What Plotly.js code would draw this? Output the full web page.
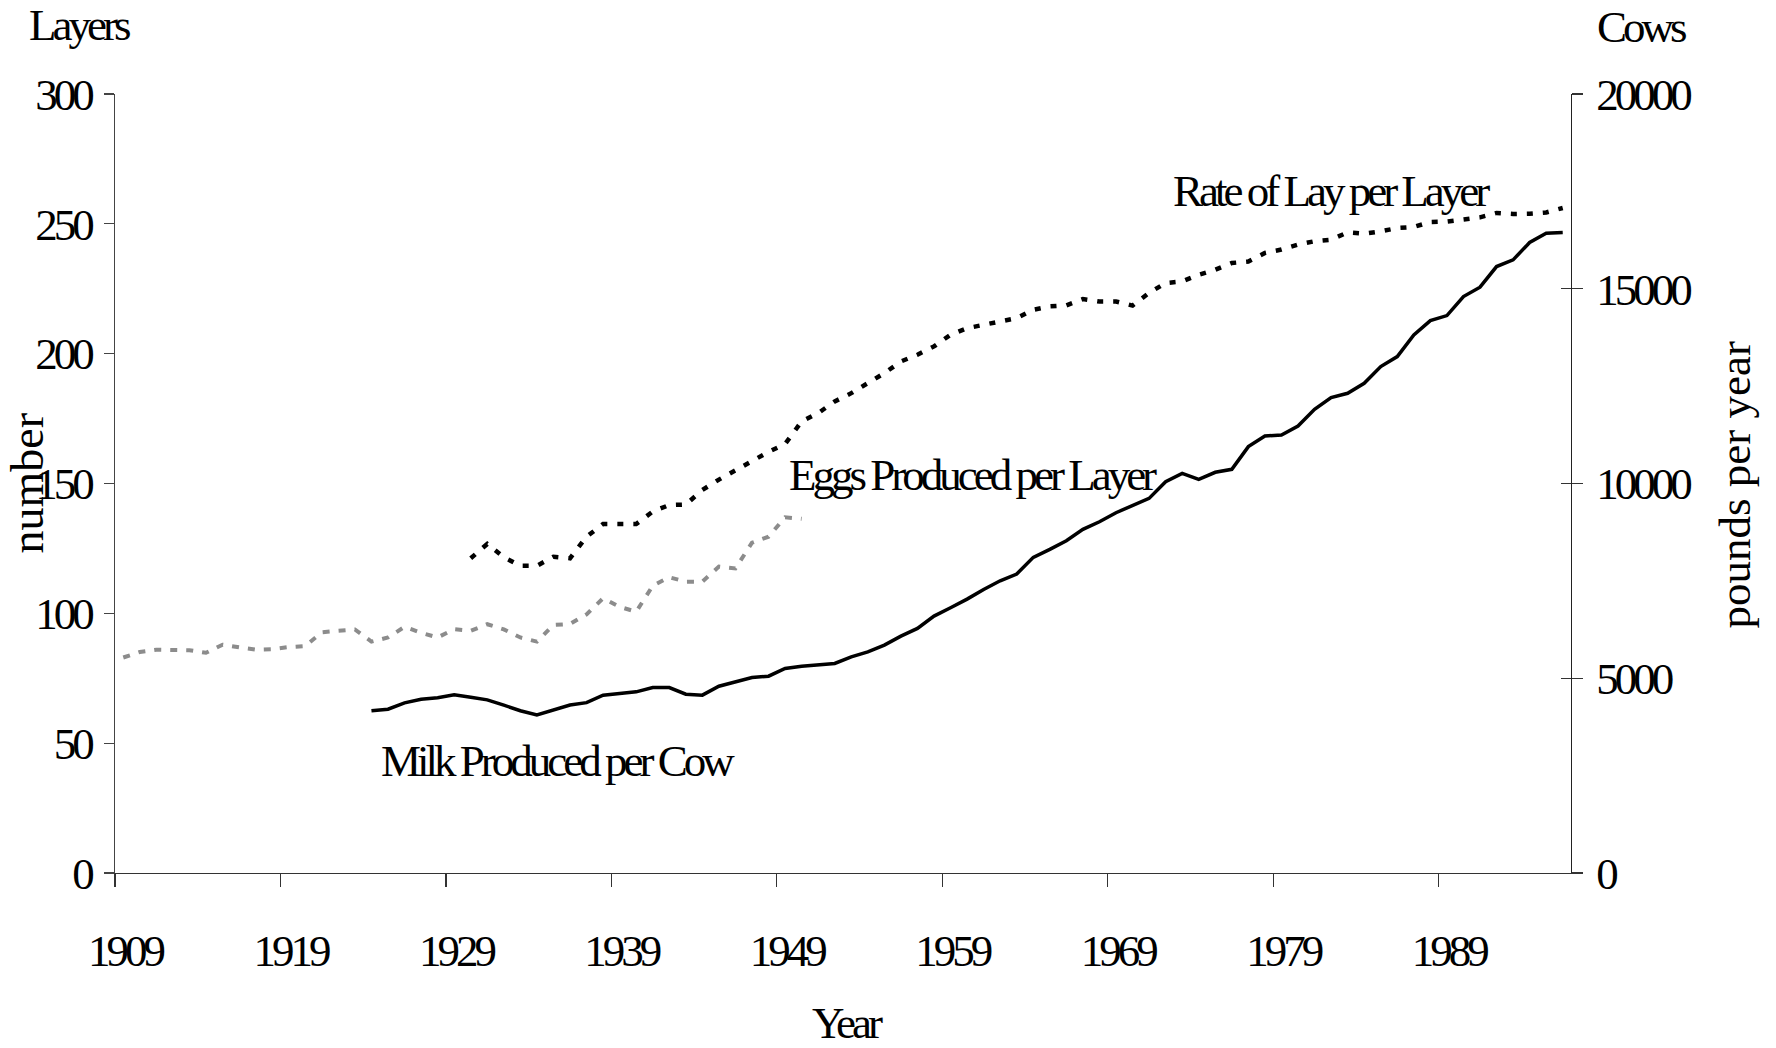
<!DOCTYPE html>
<html>
<head>
<meta charset="utf-8">
<script src="https://cdn.plot.ly/plotly-3.0.1.min.js"></script>
<style>
  body { margin: 0; background: #fff; }
  /* the source picture has squeezed, tight horizontal text */
  .main-svg text { letter-spacing: -4px; }
  g.annotation[data-index="5"] text,
  g.annotation[data-index="6"] text { letter-spacing: 0; }
</style>
</head>
<body>
<div id="chart" style="width:1776px;height:1048px;"></div>
<script>
// year categories
let years = [1909, 1910, 1911, 1912, 1913, 1914, 1915, 1916, 1917, 1918,
  1919, 1920, 1921, 1922, 1923, 1924, 1925, 1926, 1927, 1928,
  1929, 1930, 1931, 1932, 1933, 1934, 1935, 1936, 1937, 1938,
  1939, 1940, 1941, 1942, 1943, 1944, 1945, 1946, 1947, 1948,
  1949, 1950, 1951, 1952, 1953, 1954, 1955, 1956, 1957, 1958,
  1959, 1960, 1961, 1962, 1963, 1964, 1965, 1966, 1967, 1968,
  1969, 1970, 1971, 1972, 1973, 1974, 1975, 1976, 1977, 1978,
  1979, 1980, 1981, 1982, 1983, 1984, 1985, 1986, 1987, 1988,
  1989, 1990, 1991, 1992, 1993, 1994, 1995, 1996];

// eggs produced per layer, 1909-1950 (number)
let eggs_per_layer = [83.0, 85.1, 86.0, 86.0, 85.8, 84.8, 87.9, 86.9, 86.0, 86.2,
  87.0, 87.4, 92.7, 93.3, 93.8, 89.1, 90.7, 94.8, 92.5, 90.7,
  93.9, 93.3, 95.8, 93.8, 90.7, 89.1, 95.5, 95.9, 99.6, 105.8,
  102.5, 100.6, 110.6, 113.9, 112.2, 112.2, 118.0, 117.3, 127.2, 129.5,
  137.0, 136.4];

// rate of lay per layer, 1930-1996 (number)
let rate_of_lay = [121.2, 126.7, 121.6, 118.3, 118.3, 121.8, 121.2, 129.5, 134.4, 134.2,
  134.4, 139.2, 141.7, 141.9, 147.5, 151.5, 155.1, 158.4, 162.2, 165.2,
  173.9, 177.1, 181.6, 184.8, 188.7, 192.5, 197.0, 199.6, 202.8, 207.3,
  209.8, 210.9, 212.4, 213.7, 216.9, 218.2, 218.6, 221.0, 220.1, 220.1,
  218.5, 223.4, 227.2, 227.8, 230.4, 232.3, 234.9, 235.5, 238.8, 240.1,
  242.0, 243.3, 243.9, 246.7, 246.2, 247.1, 248.4, 248.8, 250.7, 250.9,
  251.6, 252.5, 254.2, 253.8, 253.9, 254.4, 256.1];

// milk produced per cow, 1924-1996 (pounds per year)
let milk_per_cow = [4163, 4206, 4368, 4463, 4497, 4574,
  4510, 4445, 4310, 4165, 4056, 4184, 4313, 4373, 4566, 4608,
  4651, 4762, 4762, 4591, 4566, 4796, 4907, 5019, 5053, 5250,
  5310, 5336, 5379, 5550, 5678, 5851, 6082, 6279, 6596, 6809,
  7032, 7281, 7502, 7674, 8103, 8309, 8530, 8822, 9018, 9250,
  9430, 9618, 10046, 10261, 10107, 10288, 10365, 10946, 11221, 11246,
  11477, 11905, 12204, 12316, 12573, 13001, 13258, 13815, 14183, 14311,
  14799, 15040, 15570, 15742, 16187, 16424, 16442];

let tick_years = ["1909", "1919", "1929", "1939", "1949", "1959", "1969", "1979", "1989"];

function years_from(start, n) {
  let i0 = years.indexOf(start);
  return years.slice(i0, i0 + n);
}

let serif = "'Liberation Serif', 'Times New Roman', serif";
let axis_font = { family: serif, size: 45, color: "#000" };

let traces = [
  {
    x: years_from(1909, eggs_per_layer.length),
    y: eggs_per_layer,
    type: "scatter", mode: "lines", name: "Eggs Produced per Layer",
    line: { color: "#8c8c8c", width: 4, dash: "7px,9px" },
    yaxis: "y"
  },
  {
    x: years_from(1930, rate_of_lay.length),
    y: rate_of_lay,
    type: "scatter", mode: "lines", name: "Rate of Lay per Layer",
    line: { color: "#000", width: 4.5, dash: "6px,10px" },
    yaxis: "y"
  },
  {
    x: years_from(1924, milk_per_cow.length),
    y: milk_per_cow,
    type: "scatter", mode: "lines", name: "Milk Produced per Cow",
    line: { color: "#000", width: 3.5 },
    yaxis: "y2"
  }
];

// tick marks sit on the category borders, labels on the category
let tick_pos = tick_years.map(function (t) { return Number(t) - 0.5; });

let layout = {
  width: 1776,
  height: 1048,
  margin: { l: 115, r: 205, t: 94, b: 175 },
  paper_bgcolor: "#fff",
  plot_bgcolor: "#fff",
  showlegend: false,
  font: axis_font,
  xaxis: {
    range: [1908.5, 1996.5],
    tickvals: tick_pos,
    ticktext: tick_years,
    ticks: "outside", ticklen: 13, tickwidth: 1.3, tickcolor: "#333",
    ticklabelshift: 10,
    ticklabelstandoff: 25,
    showline: true, linecolor: "#333", linewidth: 1.3,
    showgrid: false, zeroline: false,
    tickfont: axis_font
  },
  yaxis: {
    range: [0, 300],
    dtick: 50,
    ticks: "outside", ticklen: 10, tickwidth: 1.3, tickcolor: "#444",
    ticklabelstandoff: 4,
    showline: true, linecolor: "#444", linewidth: 1.3,
    showgrid: false, zeroline: false,
    tickfont: axis_font
  },
  yaxis2: {
    range: [0, 20000],
    dtick: 5000,
    tickformat: "d",
    overlaying: "y", side: "right", anchor: "x",
    ticks: "outside", ticklen: 11, tickwidth: 1.3, tickcolor: "#333",
    ticklabelstandoff: 4,
    showline: true, linecolor: "#222", linewidth: 1.3,
    showgrid: false, zeroline: false,
    tickfont: axis_font
  },
  yaxis3: {
    range: [0, 20000],
    dtick: 5000,
    overlaying: "y", side: "right", anchor: "x",
    ticks: "inside", ticklen: 10, tickwidth: 1.3, tickcolor: "#333",
    showticklabels: false, showline: false,
    showgrid: false, zeroline: false
  },
  annotations: [
    { text: "Layers", xref: "paper", yref: "paper", x: -0.0254, y: 1.088, xanchor: "center", yanchor: "middle", showarrow: false },
    { text: "Cows", xref: "paper", yref: "paper", x: 1.0474, y: 1.0858, xanchor: "center", yanchor: "middle", showarrow: false },
    { text: "Rate of Lay per Layer", xref: "paper", yref: "paper", x: 0.8341, y: 0.8757, xanchor: "center", yanchor: "middle", showarrow: false },
    { text: "Eggs Produced per Layer", xref: "paper", yref: "paper", x: 0.5879, y: 0.5110, xanchor: "center", yanchor: "middle", showarrow: false },
    { text: "Milk Produced per Cow", xref: "paper", yref: "paper", x: 0.3032, y: 0.1433, xanchor: "center", yanchor: "middle", showarrow: false },
    { text: "number", xref: "paper", yref: "paper", x: -0.0601, y: 0.5006, xanchor: "center", yanchor: "middle", textangle: -90, showarrow: false, font: { family: serif, size: 46, color: "#000" } },
    { text: "pounds per year", xref: "paper", yref: "paper", x: 1.1126, y: 0.4987, xanchor: "center", yanchor: "middle", textangle: -90, showarrow: false },
    { text: "Year", xref: "paper", yref: "paper", x: 0.5014, y: -0.192, xanchor: "center", yanchor: "middle", showarrow: false }
  ]
};

// invisible helper trace so the crossing right-hand ticks get drawn
traces.push({ x: [1909], y: [0], yaxis: "y3", type: "scatter", mode: "markers",
  marker: { opacity: 0 }, hoverinfo: "skip", showlegend: false });

Plotly.newPlot("chart", traces, layout, { displayModeBar: false, staticPlot: true });
</script>
</body>
</html>
